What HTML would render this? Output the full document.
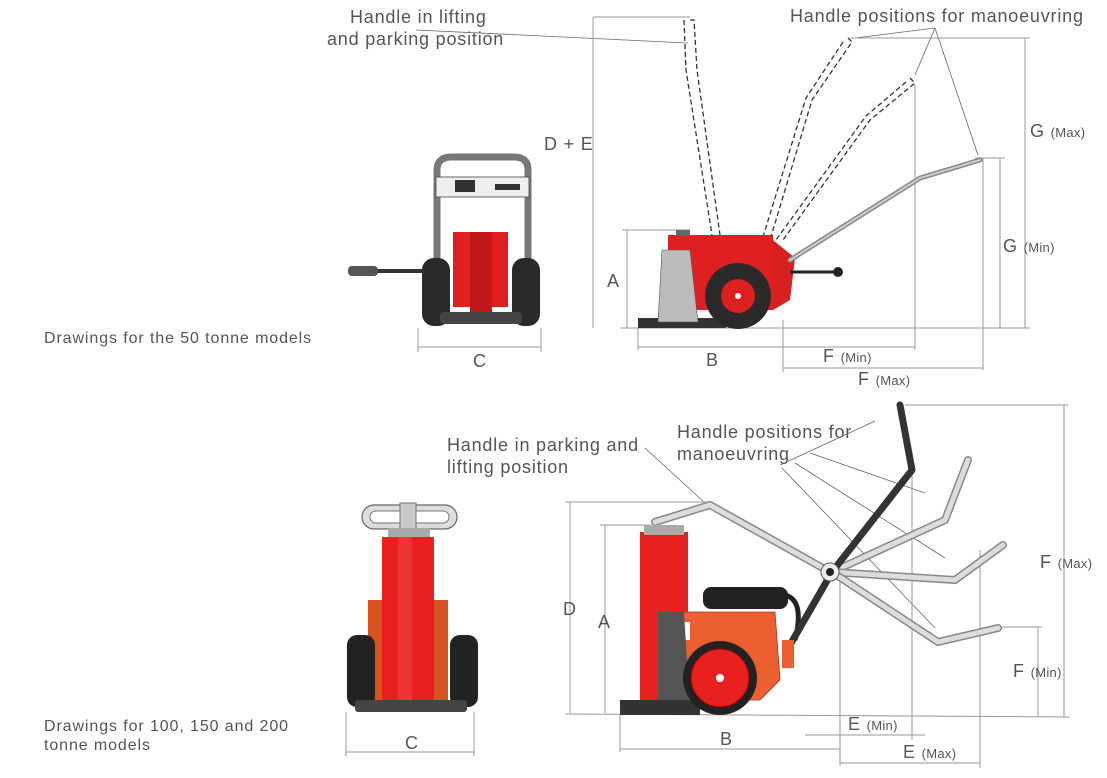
<!DOCTYPE html>
<html><head><meta charset="utf-8"><style>
html,body{margin:0;padding:0;background:#fff;width:1107px;height:778px;overflow:hidden}
text{font-family:"Liberation Sans",sans-serif;fill:#555}
.t{font-size:18px;letter-spacing:0.8px}.s{font-size:13px;letter-spacing:0.3px}.d{stroke:#999;stroke-width:1;fill:none}
.g{font-size:16px;letter-spacing:0.9px}
.lead{stroke:#666;stroke-width:0.8;fill:none}
</style></head><body>
<svg width="1107" height="778" viewBox="0 0 1107 778" xmlns="http://www.w3.org/2000/svg">
<!-- ===== TOP SECTION ===== -->
<text class="t" x="350" y="23">Handle in lifting</text>
<text class="t" x="327" y="45">and parking position</text>
<line class="lead" x1="416" y1="30" x2="688" y2="43"/>
<text class="t" x="544" y="150">D + E</text>
<text class="t" x="790" y="22">Handle positions for manoeuvring</text>
<line class="lead" x1="935" y1="28" x2="855" y2="38"/>
<line class="lead" x1="935" y1="28" x2="915" y2="75"/>
<line class="lead" x1="935" y1="28" x2="978" y2="155"/>
<text x="44" y="343" class="g">Drawings for the 50 tonne models</text>

<!-- dims top -->
<line class="d" x1="593" y1="17" x2="593" y2="328"/>
<line class="d" x1="593" y1="17" x2="690" y2="17"/>
<line class="d" x1="627" y1="230" x2="627" y2="328"/>
<line class="d" x1="622" y1="230" x2="690" y2="230"/>
<text class="t" x="607" y="287">A</text>
<line class="d" x1="620" y1="328" x2="1030" y2="328"/>
<line class="d" x1="638" y1="328" x2="638" y2="350"/>
<line class="d" x1="638" y1="347" x2="915" y2="347"/>
<line class="d" x1="783" y1="320" x2="783" y2="372"/>
<text class="t" x="706" y="366">B</text>
<text class="t" x="823" y="362">F <tspan class="s">(Min)</tspan></text>
<line class="d" x1="783" y1="368" x2="983" y2="368"/>
<text class="t" x="858" y="385">F <tspan class="s">(Max)</tspan></text>
<line class="d" x1="915" y1="85" x2="915" y2="350"/>
<line class="d" x1="983" y1="158" x2="983" y2="370"/>
<line class="d" x1="850" y1="38" x2="1030" y2="38"/>
<line class="d" x1="1025" y1="38" x2="1025" y2="328"/>
<line class="d" x1="975" y1="158" x2="1005" y2="158"/>
<line class="d" x1="1000" y1="158" x2="1000" y2="328"/>
<text class="t" x="1030" y="137">G <tspan class="s">(Max)</tspan></text>
<text class="t" x="1003" y="252">G <tspan class="s">(Min)</tspan></text>

<!-- dashed handles -->
<g stroke="#333" stroke-width="1.3" fill="none" stroke-dasharray="5,3">
<path d="M690 20 L694 20 L697 70 L720 235 M684 20 L686 70 L712 235"/>
<path d="M848 38 L852 42 L812 100 L770 240 M843 42 L806 98 L762 240"/>
<path d="M910 78 L915 83 L870 120 L783 240 M906 82 L866 116 L776 240"/>
</g>
<!-- side machine top -->
<rect x="668" y="235" width="105" height="75" fill="#e02020"/>
<polygon points="773,240 795,258 790,300 773,310" fill="#d82020"/>
<rect x="638" y="318" width="88" height="10" fill="#333"/>
<polygon points="662,250 690,250 698,322 658,322" fill="#bbb" stroke="#555" stroke-width="0.6"/>
<rect x="676" y="230" width="14" height="6" fill="#666"/>
<circle cx="738" cy="296" r="33" fill="#2a2a2a"/>
<circle cx="738" cy="296" r="17" fill="#dd1f1f"/>
<circle cx="738" cy="296" r="3" fill="#fff"/>
<line x1="790" y1="272" x2="838" y2="272" stroke="#222" stroke-width="3"/>
<circle cx="838" cy="272" r="5" fill="#222"/>
<path d="M790 260 L920 178 L980 160" stroke="#888" stroke-width="5" fill="none" stroke-linecap="round"/>
<path d="M790 260 L920 178 L980 160" stroke="#ccc" stroke-width="2" fill="none" stroke-linecap="round"/>
<!-- front view top -->
<path d="M437 305 L437 170 Q437 157 452 157 L514 157 Q528 157 528 170 L528 305" stroke="#777" stroke-width="7" fill="none"/>
<rect x="436" y="177" width="93" height="20" fill="#eee" stroke="#444" stroke-width="0.8"/>
<rect x="455" y="180" width="20" height="12" fill="#333"/><rect x="495" y="184" width="25" height="6" fill="#333"/>
<rect x="453" y="232" width="55" height="75" fill="#e02020"/>
<rect x="470" y="232" width="22" height="80" fill="#c01818"/>
<rect x="422" y="258" width="28" height="68" rx="12" fill="#2a2a2a"/>
<rect x="512" y="258" width="28" height="68" rx="12" fill="#2a2a2a"/>
<rect x="440" y="312" width="82" height="12" rx="4" fill="#444"/>
<line x1="350" y1="271" x2="425" y2="271" stroke="#333" stroke-width="4"/>
<rect x="348" y="266" width="30" height="10" rx="4" fill="#555"/>
<line class="d" x1="418" y1="328" x2="418" y2="352"/>
<line class="d" x1="541" y1="328" x2="541" y2="352"/>
<line class="d" x1="418" y1="347" x2="541" y2="347"/>
<text class="t" x="473" y="367">C</text>

<!-- ===== BOTTOM SECTION ===== -->
<text class="t" x="447" y="451">Handle in parking and</text>
<text class="t" x="447" y="473">lifting position</text>
<line class="lead" x1="645" y1="448" x2="705" y2="503"/>
<text class="t" x="677" y="438">Handle positions for</text>
<text class="t" x="677" y="460">manoeuvring</text>
<g class="lead">
<line x1="780" y1="465" x2="875" y2="421"/>
<line x1="810" y1="453" x2="925" y2="493"/>
<line x1="795" y1="463" x2="945" y2="558"/>
<line x1="782" y1="468" x2="935" y2="628"/>
</g>
<text x="44" y="731" class="g">Drawings for 100, 150 and 200</text>
<text x="44" y="750" class="g">tonne models</text>

<!-- front view bottom -->
<rect x="362" y="505" width="95" height="24" rx="12" fill="#ddd" stroke="#666" stroke-width="1.2"/>
<rect x="370" y="511" width="79" height="12" rx="6" fill="#fff" stroke="#777"/>
<rect x="400" y="503" width="16" height="28" fill="#ccc" stroke="#777"/>
<rect x="388" y="528" width="42" height="10" fill="#aaa"/>
<rect x="368" y="600" width="80" height="100" fill="#d9531e"/>
<rect x="382" y="537" width="52" height="170" fill="#e82020"/>
<rect x="398" y="537" width="14" height="170" fill="#f24a4a" opacity="0.5"/>
<rect x="347" y="635" width="28" height="72" rx="10" fill="#222"/>
<rect x="450" y="635" width="28" height="72" rx="10" fill="#222"/>
<rect x="355" y="700" width="112" height="12" rx="3" fill="#444"/>
<line class="d" x1="346" y1="712" x2="346" y2="756"/>
<line class="d" x1="474" y1="712" x2="474" y2="756"/>
<line class="d" x1="346" y1="752" x2="474" y2="752"/>
<text class="t" x="405" y="749">C</text>

<!-- side view bottom dims -->
<line class="d" x1="565" y1="502" x2="710" y2="502"/>
<line class="d" x1="570" y1="502" x2="570" y2="713"/>
<text class="t" x="563" y="615">D</text>
<line class="d" x1="600" y1="525" x2="650" y2="525"/>
<line class="d" x1="605" y1="525" x2="605" y2="713"/>
<text class="t" x="598" y="628">A</text>
<line class="d" x1="565" y1="714" x2="1070" y2="717"/>
<line class="d" x1="620" y1="715" x2="620" y2="752"/>
<line class="d" x1="620" y1="749" x2="840" y2="749"/>
<text class="t" x="720" y="745">B</text>
<line class="d" x1="840" y1="580" x2="840" y2="766"/>
<line class="d" x1="912" y1="470" x2="912" y2="740"/>
<line class="d" x1="980" y1="550" x2="980" y2="768"/>
<line class="d" x1="805" y1="735" x2="925" y2="735"/>
<text class="t" x="848" y="730">E <tspan class="s">(Min)</tspan></text>
<line class="d" x1="840" y1="763" x2="980" y2="763"/>
<text class="t" x="903" y="758">E <tspan class="s">(Max)</tspan></text>
<line class="d" x1="905" y1="405" x2="1068" y2="405"/>
<line class="d" x1="1064" y1="405" x2="1064" y2="717"/>
<text class="t" x="1040" y="568">F <tspan class="s">(Max)</tspan></text>
<line class="d" x1="1000" y1="627" x2="1042" y2="627"/>
<line class="d" x1="1038" y1="627" x2="1038" y2="717"/>
<text class="t" x="1013" y="677">F <tspan class="s">(Min)</tspan></text>

<!-- side machine bottom -->
<g stroke-linecap="round" fill="none">
<path d="M655 522 L710 505 L830 572" stroke="#888" stroke-width="8"/>
<path d="M655 522 L710 505 L830 572" stroke="#ddd" stroke-width="5"/>
<path d="M832 572 L945 520 L968 460" stroke="#888" stroke-width="8"/>
<path d="M832 572 L945 520 L968 460" stroke="#ddd" stroke-width="5"/>
<path d="M832 572 L955 580 L1003 545" stroke="#888" stroke-width="8"/>
<path d="M832 572 L955 580 L1003 545" stroke="#ddd" stroke-width="5"/>
<path d="M832 572 L938 642 L998 628" stroke="#888" stroke-width="8"/>
<path d="M832 572 L938 642 L998 628" stroke="#ddd" stroke-width="5"/>
</g>
<rect x="703" y="587" width="85" height="22" rx="8" fill="#222"/>
<path d="M785 595 Q805 600 795 640" stroke="#222" stroke-width="5" fill="none"/>
<rect x="640" y="532" width="48" height="178" fill="#e82020"/>
<rect x="644" y="525" width="40" height="10" fill="#aaa"/>
<polygon points="665,612 775,612 780,680 760,700 665,700" fill="#ec5f30" stroke="#a33" stroke-width="0.8"/>
<rect x="672" y="622" width="18" height="18" fill="#fff"/>
<polygon points="658,612 684,612 690,710 658,710" fill="#555"/>
<rect x="620" y="700" width="80" height="15" fill="#333"/>
<circle cx="720" cy="678" r="37" fill="#222"/>
<circle cx="720" cy="678" r="29" fill="#e82020" stroke="#900"/>
<circle cx="720" cy="678" r="4" fill="#fff"/>
<path d="M790 645 L832 572 L912 470 L900 405" stroke="#333" stroke-width="7" fill="none" stroke-linecap="round" stroke-linejoin="round"/>
<rect x="782" y="640" width="12" height="28" fill="#ec5f30"/>
<circle cx="830" cy="572" r="9" fill="#eee" stroke="#555"/>
<circle cx="830" cy="572" r="4" fill="#222"/>
</svg>
</body></html>
